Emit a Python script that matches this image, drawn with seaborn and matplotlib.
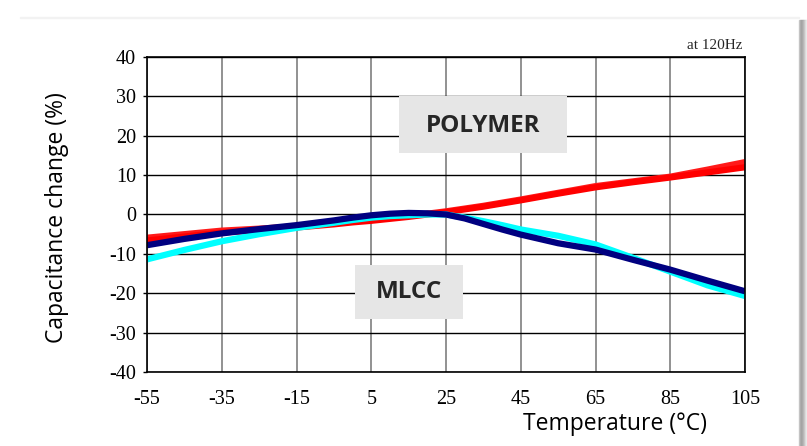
import numpy as np
import pandas as pd
import matplotlib
matplotlib.use("Agg")
import matplotlib.pyplot as plt
from matplotlib.patches import Rectangle
import seaborn as sns

# temperature points (deg C)
temps = [-55, -45, -35, -25, -15, -5, 0, 5, 10, 15, 20, 25, 30, 35, 40, 45, 55, 65, 75, 85, 95, 105]

# capacitance change (%)
polymer_a = [-5.9, -5.0, -4.1, -3.6, -3.0, -2.2, -1.8, -1.3, -0.9, -0.4, 0.2, 0.8, 1.5, 2.2, 3.0, 3.8,
             5.5, 7.2, 8.4, 9.6, 11.4, 13.3]
polymer_b = [-6.6, -5.6, -4.6, -3.9, -3.3, -2.5, -2.0, -1.6, -1.1, -0.6, 0.0, 0.6, 1.3, 2.0, 2.8, 3.6,
             5.3, 6.9, 8.2, 9.4, 10.7, 12.0]
mlcc_navy = [-7.8, -6.2, -4.8, -3.7, -2.7, -1.5, -0.8, -0.2, 0.2, 0.4, 0.3, 0.0, -1.0, -2.4, -3.8, -5.1,
             -7.3, -8.9, -11.5, -14.0, -16.8, -19.5]
mlcc_cyan = [-11.4, -9.0, -6.8, -5.0, -3.4, -2.1, -1.4, -0.8, -0.4, -0.2, 0.0, 0.0, -0.8, -1.7, -2.7, -3.8,
             -5.4, -7.6, -11.0, -14.5, -18.0, -20.7]

xticks = [-55, -35, -15, 5, 25, 45, 65, 85, 105]
yticks = [-40, -30, -20, -10, 0, 10, 20, 30, 40]

series = {
    "POLYMER a": (polymer_a, "#ff1a1a"),
    "POLYMER b": (polymer_b, "#ff0000"),
    "MLCC cyan": (mlcc_cyan, "#00ffff"),
    "MLCC navy": (mlcc_navy, "#000080"),
}

df = pd.concat(
    [pd.DataFrame({"temp": temps, "cap": vals, "curve": name}) for name, (vals, _) in series.items()]
)
palette = {name: col for name, (_, col) in series.items()}

sns.set_style("white")
plt.rcParams["font.family"] = ["Liberation Serif", "DejaVu Serif"]
plt.rcParams["axes.unicode_minus"] = False
plt.rcParams["lines.solid_joinstyle"] = "round"
plt.rcParams["lines.solid_capstyle"] = "butt"

fig = plt.figure(figsize=(8.07, 4.46), dpi=100)
fig.patch.set_facecolor("white")
# slide shadow on the right edge
for i, c in enumerate(["#c8c8c8", "#b0b0b0", "#a4a4a4", "#a8a8a8", "#b4b4b4", "#c4c4c4", "#d8d8d8", "#e8e8e8"]):
    fig.patches.append(Rectangle((799 / 807 + i / 807, 0), 1 / 807 + 0.0005, 1 - 20 / 446,
                                 transform=fig.transFigure, color=c, zorder=0))
fig.patches.append(Rectangle((20 / 807, 1 - 18 / 446), 779 / 807, 1 / 446,
                             transform=fig.transFigure, color="#f2f2f2", zorder=0))

ax = fig.add_axes([147 / 807, 1 - 372 / 446, 598 / 807, 315 / 446])

# grid
for x in xticks:
    ax.axvline(x, color="#7f7f7f", lw=1.2, zorder=1)
for y in yticks:
    ax.axhline(y, color="black", lw=1.0, zorder=1)

sns.lineplot(data=df, x="temp", y="cap", hue="curve", palette=palette,
             linewidth=4.5, legend=False, ax=ax, zorder=3)

ax.set_xlim(-55, 105)
ax.set_ylim(-40, 40)
ax.set_xticks(xticks)
ax.set_yticks(yticks)
ax.tick_params(axis="both", labelsize=14.5, colors="black")
ax.tick_params(axis="y", length=3, width=1, direction="out", left=True, pad=5)
ax.tick_params(axis="x", length=0, pad=13)
for s in ax.spines.values():
    s.set_color("black")
    s.set_linewidth(1.2)
    s.set_zorder(4)

ax.set_xlabel("Temperature (°C)", fontsize=16.5, color="black", family=["Open Sans", "DejaVu Sans"])
ax.set_ylabel("Capacitance change (%)", fontsize=16.5, color="black", family=["Open Sans", "DejaVu Sans"])
ax.xaxis.set_label_coords(0.783, -0.128)
ax.yaxis.set_label_coords(-0.13, 0.49)

ax.text(0.995, 1.015, "at 120Hz", transform=ax.transAxes, ha="right", va="bottom", fontsize=11)

# labels in grey boxes
ax.add_patch(Rectangle((12.4, 15.7), 45.0, 14.3, facecolor="#e6e6e6", edgecolor="none", zorder=5))
ax.text(34.9, 22.6, "POLYMER", ha="center", va="center", fontsize=17.5, fontweight="bold",
        color="#262626", family=["Open Sans", "DejaVu Sans"], zorder=6)
ax.add_patch(Rectangle((0.6, -26.6), 28.9, 13.9, facecolor="#e6e6e6", edgecolor="none", zorder=5))
ax.text(15.0, -19.8, "MLCC", ha="center", va="center", fontsize=17.5, fontweight="bold",
        color="#262626", family=["Open Sans", "DejaVu Sans"], zorder=6)

fig.savefig("out.png", dpi=100)
